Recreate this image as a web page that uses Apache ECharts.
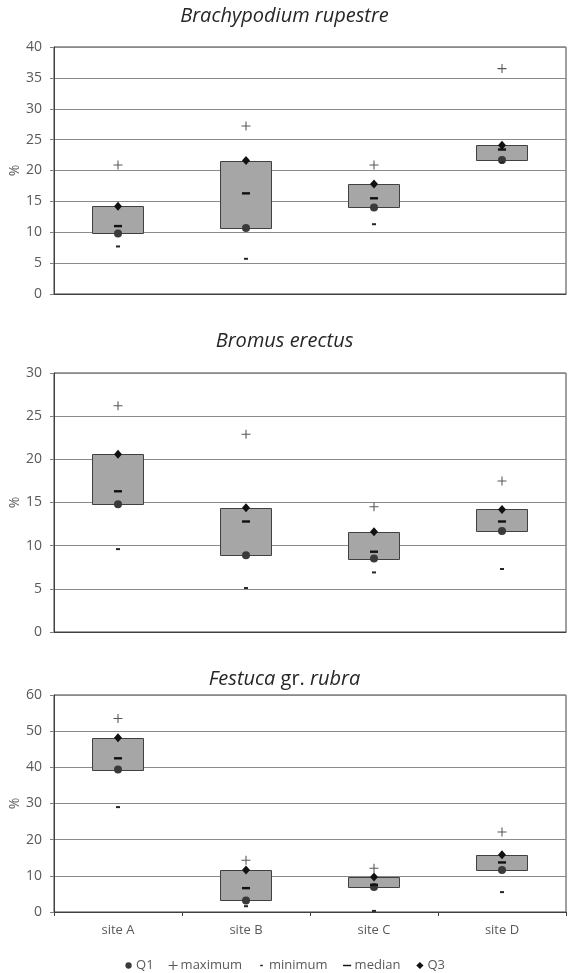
<!DOCTYPE html>
<html>
<head>
<meta charset="utf-8">
<script src="https://cdn.jsdelivr.net/npm/echarts@6/dist/echarts.min.js"></script>
<style>
html,body{margin:0;padding:0;background:#fff;}
#chart{width:569px;height:973px;}
</style>
</head>
<body>
<div id="chart"></div>
<script>
const categories = ['site A', 'site B', 'site C', 'site D'];

const brachyQ1     = [9.8, 10.7, 14.0, 21.7];
const brachyQ3     = [14.2, 21.6, 17.8, 24.1];
const brachyMedian = [11.0, 16.3, 15.5, 23.4];
const brachyMax    = [20.9, 27.2, 20.9, 36.5];
const brachyMin    = [7.7, 5.7, 11.3, 21.3];

const bromusQ1     = [14.8, 8.9, 8.5, 11.7];
const bromusQ3     = [20.6, 14.4, 11.6, 14.2];
const bromusMedian = [16.3, 12.8, 9.3, 12.8];
const bromusMax    = [26.2, 22.9, 14.5, 17.5];
const bromusMin    = [9.6, 5.1, 6.9, 7.3];

const festucaQ1     = [39.4, 3.2, 6.9, 11.6];
const festucaQ3     = [48.2, 11.6, 9.7, 15.8];
const festucaMedian = [42.5, 6.6, 7.5, 13.7];
const festucaMax    = [53.5, 14.3, 12.1, 22.1];
const festucaMin    = [29.0, 1.6, 0.3, 5.5];

const yMax = [40, 30, 60];
const yStep = [5, 5, 10];

const FONT = '"Open Sans", sans-serif';
const PLUS = 'path://M4.4,0H5.6V4.4H10V5.6H5.6V10H4.4V5.6H0V4.4H4.4Z';
const DASH = 'path://M0,0H10V3H0Z';

const panels = [
  {q1: brachyQ1, q3: brachyQ3, med: brachyMedian, max: brachyMax, min: brachyMin},
  {q1: bromusQ1, q3: bromusQ3, med: bromusMedian, max: bromusMax, min: bromusMin},
  {q1: festucaQ1, q3: festucaQ3, med: festucaMedian, max: festucaMax, min: festucaMin}
];

const grids = [
  {left: 54, width: 512, top: 47, height: 247},
  {left: 54, width: 512, top: 373, height: 259},
  {left: 54, width: 512, top: 695, height: 217}
];

function renderBox(params, api) {
  const x = api.value(0), lo = api.value(1), hi = api.value(2);
  const pTop = api.coord([x, hi]);
  const pBot = api.coord([x, lo]);
  const w = api.size([1, 0])[0] * 0.4;
  return {
    type: 'rect',
    shape: {x: Math.round(pTop[0] - w / 2) + 0.5, y: Math.round(pTop[1]) + 0.5, width: Math.round(w), height: Math.round(pBot[1] - pTop[1])},
    style: {fill: '#a6a6a6', stroke: '#404040', lineWidth: 1}
  };
}

const xAxes = [], yAxes = [], series = [];
panels.forEach((p, i) => {
  const last = i === 2;
  xAxes.push({
    type: 'category', gridIndex: i, data: categories, boundaryGap: true,
    axisLine: {show: true, lineStyle: {color: '#404040', width: 1}},
    axisTick: {show: last, length: 4, lineStyle: {color: '#404040'}},
    axisLabel: {show: last, color: '#595959', fontSize: 13, fontFamily: FONT, margin: 12},
    splitLine: {show: false}
  });
  yAxes.push({
    type: 'value', gridIndex: i, min: 0, max: yMax[i], interval: yStep[i],
    name: '%', nameLocation: 'middle', nameGap: 32, nameRotate: 90, nameMoveOverlap: false,
    nameTextStyle: {color: '#595959', fontSize: 14, fontFamily: FONT},
    axisLine: {show: true, lineStyle: {color: '#404040', width: 1}},
    axisTick: {show: true, length: 4, lineStyle: {color: '#808080'}},
    axisLabel: {color: '#595959', fontSize: 14, fontFamily: FONT, margin: 12},
    splitLine: {show: true, lineStyle: {color: '#8a8a8a', width: 1}}
  });
  series.push({
    type: 'custom', name: 'box' + i, xAxisIndex: i, yAxisIndex: i, z: 2,
    renderItem: renderBox,
    encode: {x: 0, y: [1, 2]},
    data: categories.map((c, k) => [k, p.q1[k], p.q3[k]]),
    silent: true
  });
  series.push({
    type: 'scatter', name: 'Q1', xAxisIndex: i, yAxisIndex: i, z: 5,
    symbol: 'circle', symbolSize: 8, data: p.q1,
    itemStyle: {color: '#3a3a3a', opacity: 1}
  });
  series.push({
    type: 'scatter', name: 'maximum', xAxisIndex: i, yAxisIndex: i, z: 5,
    symbol: PLUS, symbolSize: 9, data: p.max,
    itemStyle: {color: '#595959', opacity: 1}
  });
  series.push({
    type: 'scatter', name: 'minimum', xAxisIndex: i, yAxisIndex: i, z: 5,
    symbol: DASH, symbolSize: [4, 2], data: p.min,
    itemStyle: {color: '#262626', opacity: 1}
  });
  series.push({
    type: 'scatter', name: 'median', xAxisIndex: i, yAxisIndex: i, z: 5,
    symbol: DASH, symbolSize: [8, 2.4], data: p.med,
    itemStyle: {color: '#111111', opacity: 1}
  });
  series.push({
    type: 'scatter', name: 'Q3', xAxisIndex: i, yAxisIndex: i, z: 6,
    symbol: 'diamond', symbolSize: [8, 9], data: p.q3,
    itemStyle: {color: '#111111', opacity: 1}
  });
});

const TS = 20;
const titleStyle = {color: '#262626', fontSize: TS, fontFamily: FONT, fontStyle: 'italic', fontWeight: 'normal'};

const option = {
  animation: false,
  backgroundColor: '#ffffff',
  title: [
    {text: 'Brachypodium rupestre', left: 'center', top: 1, textStyle: titleStyle},
    {text: 'Bromus erectus', left: 'center', top: 326, textStyle: titleStyle},
    {text: '{i|Festuca} {n|gr.} {i|rubra}', left: 'center', top: 664,
     textStyle: {fontSize: TS, fontWeight: 'normal', fontFamily: FONT, rich: {
       i: {color: '#262626', fontSize: TS, fontFamily: FONT, fontStyle: 'italic', fontWeight: 'normal'},
       n: {color: '#262626', fontSize: TS, fontFamily: FONT, fontStyle: 'normal', fontWeight: 'normal'}
     }}}
  ],
  legend: {
    data: [
      {name: 'Q1', icon: 'path://M0,0M1.5,5A3.5,3.5,0,1,0,8.5,5A3.5,3.5,0,1,0,1.5,5ZM10,10'},
      {name: 'maximum'},
      {name: 'minimum', icon: 'path://M0,0M3.5,4.2H6.5V5.8H3.5ZM10,10'},
      {name: 'median', icon: 'path://M0,0M0.5,4.2H9.5V5.8H0.5ZM10,10'},
      {name: 'Q3', icon: 'path://M0,0M5,1L9,5L5,9L1,5ZM10,10'}
    ],
    left: 'center', top: 954,
    itemWidth: 9, itemHeight: 9, itemGap: 15,
    textStyle: {color: '#595959', fontSize: 13, fontFamily: FONT, padding: [0, 0, 0, -2]}
  },
  grid: grids.map(g => Object.assign({show: true, borderColor: '#404040', borderWidth: 1, backgroundColor: 'transparent', containLabel: false, outerBoundsMode: 'none'}, g)),
  xAxis: xAxes,
  yAxis: yAxes,
  series: series
};

const chart = echarts.init(document.getElementById('chart'), null, {renderer: 'canvas'});
chart.setOption(option);
</script>
</body>
</html>
